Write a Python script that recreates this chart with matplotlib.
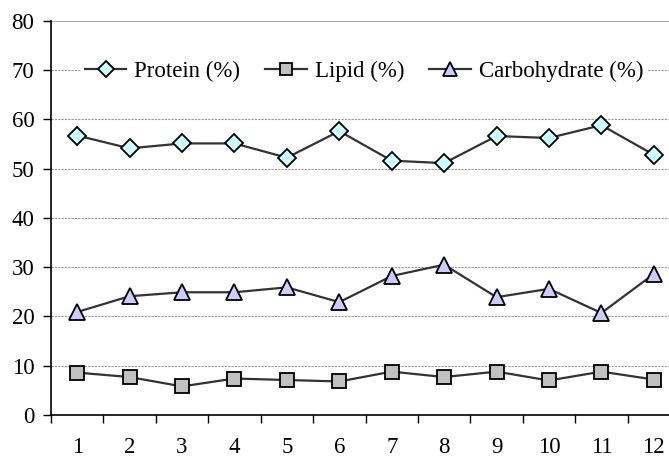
import matplotlib
matplotlib.use("Agg")
import matplotlib.pyplot as plt
import numpy as np

categories = ["1", "2", "3", "4", "5", "6", "7", "8", "9", "10", "11", "12"]
protein = [56.7, 54.1, 55.1, 55.1, 52.2, 57.6, 51.6, 51.1, 56.6, 56.2, 58.8, 52.8]
lipid = [8.6, 7.7, 5.8, 7.4, 7.1, 6.8, 8.8, 7.7, 8.8, 7.0, 8.8, 7.2]
carbohydrate = [20.9, 24.1, 24.9, 24.9, 25.9, 22.9, 28.2, 30.5, 23.9, 25.6, 20.7, 28.6]
y_ticks = [0, 10, 20, 30, 40, 50, 60, 70, 80]

plt.rcParams['font.family'] = ['Liberation Serif', 'DejaVu Serif']

fig = plt.figure(figsize=(6.69, 4.62), dpi=100)
W, H = 669, 462
x0, x1 = 51, 680
y0, y1 = 415, 20.7
ax = fig.add_axes([x0 / W, (H - y0) / H, (x1 - x0) / W, (y0 - y1) / H])

x = np.arange(1, len(categories) + 1)
line_kw = dict(color='#333333', lw=1.6, markeredgecolor='black', markeredgewidth=1.3)
ax.plot(x, protein, marker='D', ms=9, markerfacecolor='#CCFFFF', label='Protein (%)', **line_kw)
ax.plot(x, lipid, marker='s', ms=10, markerfacecolor='#C0C0C0', label='Lipid (%)', **line_kw)
ax.plot(x, carbohydrate, marker='^', ms=12, markerfacecolor='#CCCCFF', label='Carbohydrate (%)', **line_kw)

ax.set_xlim(0.5, len(categories) + 0.5)
ax.set_ylim(0, 80)
ax.set_yticks(y_ticks)
ax.set_xticks(x)
ax.set_xticklabels(categories)
ax.set_xticks(np.arange(0.5, len(categories) + 1, 1), minor=True)
ax.tick_params(axis='x', which='major', length=0, pad=16, labelsize=16.5)
ax.tick_params(axis='x', which='minor', length=6, direction='out', width=1)
ax.tick_params(axis='y', length=6, direction='out', width=1, labelsize=16.5, pad=6)

for v in y_ticks[1:-1]:
    ax.axhline(v, color='#999999', lw=0.8, ls=(0, (2, 1)), zorder=0)
ax.axhline(80, color='#999999', lw=1.2, zorder=0)

for s in ['top', 'right']:
    ax.spines[s].set_visible(False)
ax.spines['left'].set_linewidth(1.2)
ax.spines['bottom'].set_linewidth(1.2)

leg = ax.legend(loc='center', bbox_to_anchor=(364 / W, (H - 71) / H), bbox_transform=fig.transFigure,
                ncol=3, frameon=True, fontsize=16.5, handlelength=1.8, handletextpad=0.35,
                columnspacing=1.1, borderpad=0.15, borderaxespad=0, fancybox=False,
                markerscale=0.85)
leg.get_frame().set_edgecolor('none')
leg.get_frame().set_facecolor('white')
leg.get_frame().set_alpha(1)

fig.savefig('out.png', dpi=100)
